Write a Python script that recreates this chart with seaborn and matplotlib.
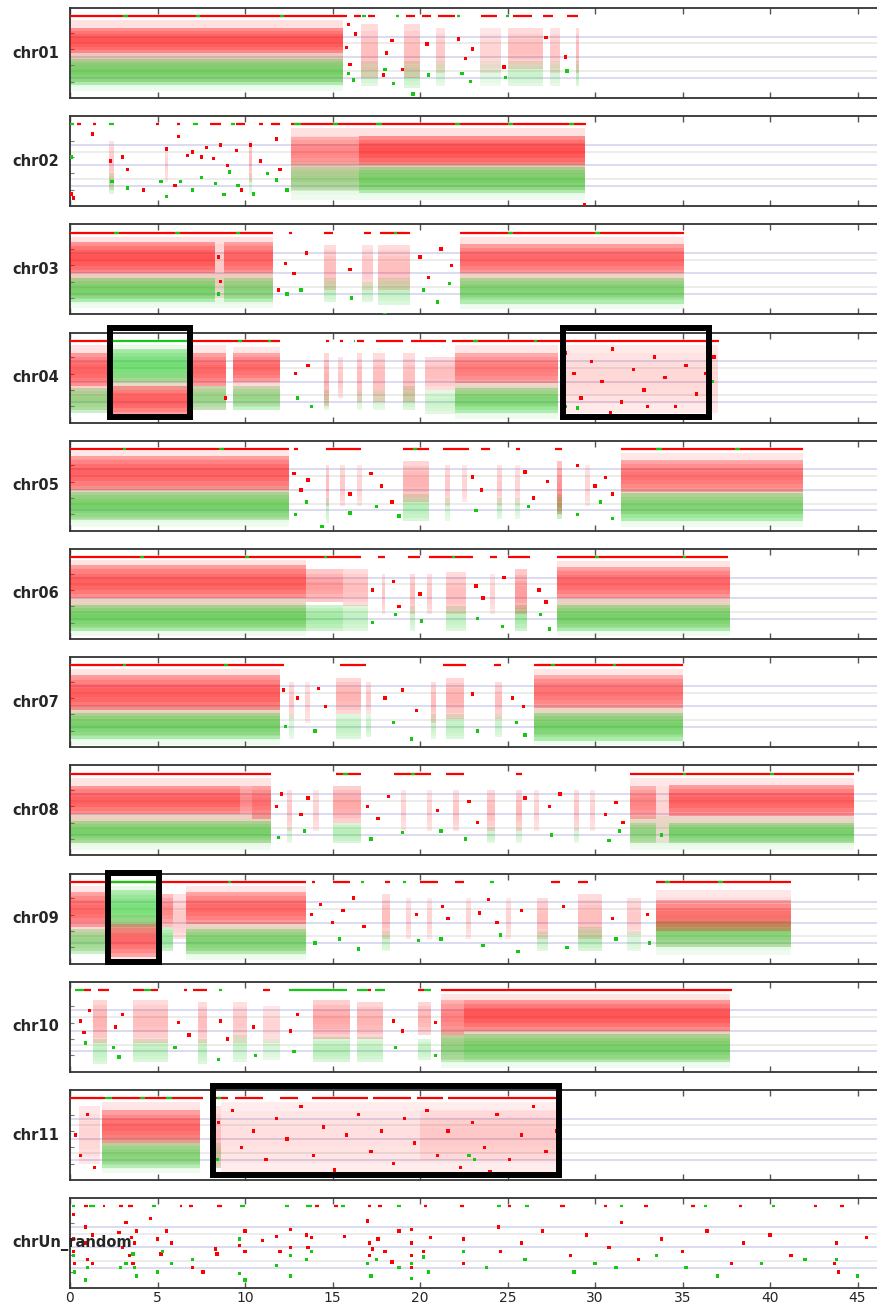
import matplotlib
matplotlib.use("Agg")
import matplotlib.pyplot as plt
from matplotlib.patches import Rectangle
import numpy as np
import pandas as pd
import seaborn as sns

sns.set_style("white")
plt.rcParams['font.family'] = ['DejaVu Sans']

chromosomes = ["chr01", "chr02", "chr03", "chr04", "chr05", "chr06",
               "chr07", "chr08", "chr09", "chr10", "chr11", "chrUn_random"]
x_ticks = [0, 5, 10, 15, 20, 25, 30, 35, 40, 45]
ref_lines_main = [0.25, 0.5, 0.75]
ref_lines_third = [1 / 3, 2 / 3]

# ---- band data: (start Mb, end Mb, y low, y high, density) ----
c01_red_bands = [(0.0, 15.6, .55, .86, .7), (0.0, 15.6, .20, .95, .25), (16.6, 17.6, .25, .9, .3), (19.1, 20.0, .25, .9, .3),
                 (20.9, 21.4, .3, .85, .25), (23.4, 24.6, .3, .85, .2), (25.0, 27.0, .35, .85, .3), (27.4, 28.0, .3, .85, .25),
                 (28.9, 29.1, .3, .85, .3)]
c01_green_bands = [(0.0, 15.6, .16, .48, .6), (0.0, 15.6, .08, .55, .15), (16.6, 17.6, .15, .45, .25), (19.1, 20.0, .12, .45, .3),
                   (20.9, 21.4, .15, .45, .2), (23.4, 24.6, .15, .45, .15), (25.0, 27.0, .15, .45, .25), (27.4, 28.0, .15, .45, .2),
                   (28.9, 29.1, .15, .45, .3)]
c01_top_red = [(0.0, 15.8), (16.2, 16.6), (17.0, 17.4), (19.2, 19.7), (20.1, 20.6), (21.0, 22.0), (23.5, 24.4), (25.3, 26.4),
               (27.0, 27.6), (28.4, 29.0)]
c01_top_green = [(3.0, 3.3), (7.2, 7.4), (12.0, 12.2), (16.7, 16.9), (18.6, 18.8), (22.1, 22.3), (24.9, 25.1)]
c01_red_pts = [(15.8, .62), (16.0, .41), (16.3, .78), (18.1, .55), (18.4, .7), (19.0, .35), (20.4, .66), (22.2, .72), (22.6, .48),
               (23.0, .6), (24.8, .38), (27.2, .74), (28.3, .5), (15.9, .9), (17.9, .28)]
c01_green_pts = [(15.9, .3), (16.2, .22), (18.0, .35), (18.5, .18), (20.5, .28), (22.4, .3), (22.9, .2), (24.9, .25), (28.4, .33),
                 (19.6, .05)]

c02_red_bands = [(12.6, 16.5, .5, .85, .4), (16.5, 29.4, .5, .86, .72), (12.6, 29.4, .2, .95, .25), (2.2, 2.5, .2, .8, .25),
                 (10.2, 10.4, .3, .8, .3), (5.4, 5.6, .3, .7, .2)]
c02_green_bands = [(12.6, 16.5, .18, .48, .35), (16.5, 29.4, .16, .48, .6), (12.6, 29.4, .08, .55, .15), (2.2, 2.5, .15, .4, .3),
                   (10.2, 10.4, .15, .4, .2)]
c02_top_red = [(0.4, 0.6), (1.3, 1.5), (4.9, 5.1), (6.1, 6.3), (8.0, 8.6), (9.5, 10.0), (10.8, 11.0), (11.5, 12.0), (12.6, 29.5)]
c02_top_green = [(0.0, 0.2), (2.2, 2.5), (7.0, 7.3), (9.2, 9.4), (12.8, 13.2), (15.0, 15.3), (17.5, 17.8), (22.0, 22.3),
                 (25.0, 25.3), (28.5, 28.8)]
c02_red_pts = [(0.1, .15), (0.2, .1), (1.3, .88), (2.3, .55), (3.3, .45), (4.2, .2), (5.5, .7), (6.0, .25), (6.2, .85), (6.7, .62),
               (7.0, .66), (7.5, .6), (7.8, .72), (8.2, .58), (8.6, .75), (9.0, .5), (9.5, .68), (9.8, .2), (10.3, .75),
               (10.9, .55), (11.8, .82), (12.0, .45), (3.0, .6), (29.4, .02)]
c02_green_pts = [(0.1, .6), (2.4, .3), (3.3, .22), (5.2, .3), (5.5, .12), (6.3, .3), (7.0, .2), (7.5, .35), (8.3, .28), (9.1, .42),
                 (9.6, .25), (10.5, .15), (11.3, .4), (11.8, .32), (12.4, .2), (8.8, .14)]

c03_red_bands = [(0.0, 8.3, .5, .88, .7), (8.8, 11.6, .5, .88, .6), (0.0, 11.6, .2, .95, .25), (14.5, 15.2, .3, .85, .3),
                 (16.7, 17.3, .3, .85, .25), (17.6, 19.4, .3, .85, .3), (22.3, 35.1, .5, .86, .6), (22.3, 35.1, .2, .95, .22)]
c03_green_bands = [(0.0, 8.3, .15, .45, .6), (8.8, 11.6, .15, .45, .5), (0.0, 11.6, .08, .5, .15), (14.5, 15.2, .15, .45, .3),
                   (16.7, 17.3, .15, .4, .25), (17.6, 19.4, .12, .45, .3), (22.3, 35.1, .13, .45, .55), (22.3, 35.1, .06, .5, .15)]
c03_top_red = [(0.0, 11.6), (12.5, 12.7), (14.5, 15.0), (16.8, 17.2), (17.7, 19.4), (22.3, 35.1)]
c03_top_green = [(2.5, 2.8), (6.0, 6.3), (9.5, 9.7), (18.5, 18.7), (25.0, 25.3), (30.0, 30.3)]
c03_red_pts = [(12.3, .62), (12.8, .5), (13.5, .75), (16.0, .55), (20.0, .7), (20.5, .45), (21.2, .8), (21.8, .6), (8.5, .7),
               (8.6, .4), (11.9, .3)]
c03_green_pts = [(12.4, .25), (13.2, .3), (16.1, .2), (20.2, .3), (21.0, .15), (21.7, .38), (8.5, .25), (18.0, .0)]

c04_red_bands = [(0.0, 2.2, .45, .85, .6), (0.0, 2.2, .15, .95, .25), (2.2, 6.9, .08, .45, .65), (2.2, 6.9, .05, .6, .2),
                 (6.9, 8.9, .45, .85, .6), (6.9, 8.9, .15, .95, .2), (9.3, 12.0, .5, .85, .6), (9.3, 12.0, .2, .92, .2),
                 (14.5, 14.8, .2, .85, .35), (15.3, 15.6, .3, .8, .25), (16.4, 16.7, .25, .85, .3), (17.3, 18.0, .25, .85, .3),
                 (19.0, 19.7, .25, .85, .3), (20.3, 22.0, .4, .8, .3), (22.0, 27.9, .48, .85, .5), (22.0, 27.9, .2, .95, .2),
                 (28.0, 37.0, .12, .95, .18)]
c04_green_bands = [(0.0, 2.2, .12, .42, .5), (2.2, 6.9, .5, .9, .6), (2.2, 6.9, .4, .95, .2), (6.9, 8.9, .15, .45, .5),
                   (9.3, 12.0, .15, .45, .5), (14.5, 14.8, .15, .4, .25), (16.4, 16.7, .15, .4, .2), (17.3, 18.0, .15, .4, .2),
                   (19.0, 19.7, .15, .45, .3), (20.3, 22.0, .1, .4, .25), (22.0, 27.9, .12, .42, .55), (22.0, 27.9, .05, .5, .15)]
c04_top_red = [(0.0, 2.2), (6.9, 12.0), (14.6, 14.8), (15.4, 15.6), (16.4, 16.8), (17.5, 19.0), (19.5, 21.5), (21.8, 37.1)]
c04_top_green = [(2.2, 6.9), (9.6, 9.8), (11.3, 11.5), (16.2, 16.3), (23.0, 23.3), (26.5, 26.7)]
c04_red_pts = [(28.3, .85), (28.8, .6), (29.2, .3), (29.8, .75), (30.4, .5), (31.0, .9), (31.5, .25), (32.2, .65), (32.8, .4),
               (33.4, .8), (34.0, .55), (34.6, .2), (35.2, .7), (35.8, .35), (36.3, .6), (36.8, .8), (36.5, .15), (30.9, .12),
               (33.0, .2), (12.9, .6), (13.6, .7), (8.9, .3)]
c04_green_pts = [(13.0, .3), (13.8, .2), (36.7, .5), (29.0, .18), (28.3, .2)]

c05_red_bands = [(0.0, 12.5, .5, .92, .65), (0.0, 12.5, .15, .98, .2), (14.6, 14.8, .3, .8, .3), (15.4, 15.7, .3, .8, .25),
                 (16.4, 16.7, .3, .8, .2), (19.0, 20.5, .35, .85, .35), (21.4, 21.7, .3, .8, .25), (22.4, 22.7, .35, .8, .2),
                 (24.4, 24.7, .3, .8, .25), (25.4, 25.7, .3, .8, .2), (27.8, 28.1, .2, .85, .5), (29.4, 29.7, .3, .8, .2),
                 (31.5, 41.9, .48, .86, .55), (31.5, 41.9, .2, .95, .2)]
c05_green_bands = [(0.0, 12.5, .13, .48, .6), (0.0, 12.5, .05, .55, .15), (14.6, 14.8, .1, .4, .25), (19.0, 20.5, .12, .45, .35),
                   (21.4, 21.7, .12, .4, .2), (24.4, 24.7, .15, .4, .25), (25.4, 25.7, .15, .4, .2), (27.8, 28.1, .15, .45, .5),
                   (31.5, 41.9, .12, .46, .55), (31.5, 41.9, .05, .52, .15)]
c05_top_red = [(0.0, 12.5), (12.8, 13.0), (14.6, 16.6), (19.0, 20.5), (21.3, 22.8), (23.5, 24.0), (25.5, 25.7), (27.7, 28.1),
               (31.5, 41.9)]
c05_top_green = [(3.0, 3.2), (8.5, 8.8), (19.6, 19.8), (33.5, 33.8), (38.0, 38.3)]
c05_red_pts = [(12.8, .7), (13.2, .5), (13.6, .62), (16.0, .45), (17.2, .7), (17.8, .55), (18.4, .35), (23.0, .66), (23.5, .5),
               (26.0, .72), (26.5, .4), (27.3, .6), (29.0, .8), (30.0, .55), (30.6, .65), (31.0, .45)]
c05_green_pts = [(12.9, .2), (13.5, .35), (14.4, .05), (16.0, .22), (17.5, .3), (18.8, .18), (23.2, .25), (26.2, .3), (29.0, .2),
                 (30.3, .35), (31.0, .15)]

c06_red_bands = [(0.0, 13.5, .5, .9, .65), (0.0, 13.5, .15, .97, .22), (13.5, 15.6, .45, .85, .45), (15.6, 17.0, .4, .85, .3),
                 (17.8, 18.0, .3, .8, .25), (19.4, 19.7, .3, .8, .3), (20.4, 20.7, .3, .8, .25), (21.5, 22.6, .3, .82, .3),
                 (24.0, 24.3, .3, .8, .2), (25.4, 26.1, .3, .85, .45), (27.8, 37.7, .5, .88, .6), (27.8, 37.7, .15, .95, .22)]
c06_green_bands = [(0.0, 13.5, .1, .42, .62), (0.0, 13.5, .04, .5, .15), (13.5, 15.6, .1, .42, .45), (15.6, 17.0, .1, .42, .3),
                   (19.4, 19.7, .1, .4, .25), (21.5, 22.6, .1, .4, .3), (25.4, 26.1, .1, .42, .45), (27.8, 37.7, .1, .42, .6),
                   (27.8, 37.7, .04, .5, .15)]
c06_top_red = [(0.0, 16.6), (17.6, 18.0), (19.3, 20.0), (20.5, 23.0), (24.0, 24.4), (25.0, 26.3), (27.8, 37.6)]
c06_top_green = [(4.0, 4.2), (10.0, 10.2), (14.5, 14.7), (21.8, 22.0), (30.0, 30.2), (35.0, 35.2)]
c06_red_pts = [(17.3, .6), (18.5, .7), (18.8, .4), (23.2, .65), (23.6, .5), (24.8, .75), (26.8, .6), (27.2, .45), (20.0, .55)]
c06_green_pts = [(17.3, .2), (18.6, .3), (23.3, .25), (24.7, .15), (26.9, .3), (27.4, .12), (20.1, .22)]

c07_red_bands = [(0.0, 12.0, .45, .88, .65), (0.0, 12.0, .15, .96, .22), (12.5, 12.8, .35, .8, .25), (13.4, 13.7, .3, .8, .2),
                 (15.2, 16.6, .4, .85, .35), (16.9, 17.2, .4, .8, .25), (20.6, 20.9, .3, .8, .3), (21.5, 22.5, .35, .85, .35),
                 (24.3, 24.7, .35, .8, .3), (26.5, 35.0, .48, .88, .55), (26.5, 35.0, .15, .95, .2)]
c07_green_bands = [(0.0, 12.0, .1, .42, .6), (0.0, 12.0, .03, .5, .15), (12.5, 12.8, .1, .4, .2), (15.2, 16.6, .1, .4, .3),
                   (16.9, 17.2, .12, .4, .25), (20.6, 20.9, .1, .4, .25), (21.5, 22.5, .1, .4, .3), (24.3, 24.7, .12, .4, .25),
                   (26.5, 35.0, .08, .42, .6), (26.5, 35.0, .03, .5, .15)]
c07_top_red = [(0.0, 12.2), (15.4, 16.9), (21.3, 22.6), (24.2, 24.6), (26.5, 35.0)]
c07_top_green = [(3.0, 3.2), (8.8, 9.0), (27.5, 27.7), (31.0, 31.2)]
c07_red_pts = [(12.2, .7), (13.0, .6), (14.2, .72), (14.6, .5), (18.0, .6), (19.0, .7), (19.8, .45), (23.0, .65), (25.3, .6),
               (25.9, .5)]
c07_green_pts = [(12.3, .25), (14.0, .2), (18.5, .3), (19.5, .1), (23.3, .2), (25.5, .3), (26.0, .15)]

c08_red_bands = [(0.0, 9.7, .5, .85, .65), (9.7, 10.4, .5, .85, .4), (10.4, 11.5, .45, .85, .55), (0.0, 11.5, .15, .95, .22),
                 (12.4, 12.7, .3, .8, .25), (13.9, 14.2, .3, .8, .2), (15.0, 16.6, .4, .85, .4), (18.9, 19.2, .3, .8, .2),
                 (20.4, 20.7, .3, .8, .2), (21.9, 22.2, .3, .8, .25), (23.8, 24.3, .3, .8, .3), (25.5, 25.8, .3, .8, .3),
                 (26.5, 26.8, .3, .8, .2), (28.8, 29.1, .3, .8, .25), (29.7, 30.0, .3, .8, .2), (32.0, 33.5, .45, .85, .45),
                 (34.2, 44.8, .48, .86, .65), (32.0, 44.8, .15, .95, .2)]
c08_green_bands = [(0.0, 11.5, .15, .42, .6), (0.0, 11.5, .06, .5, .15), (12.4, 12.7, .15, .35, .2), (15.0, 16.6, .15, .4, .35),
                   (23.8, 24.3, .15, .35, .25), (25.5, 25.8, .15, .35, .2), (28.8, 29.1, .15, .35, .2), (32.0, 33.5, .15, .4, .45),
                   (34.2, 44.8, .15, .4, .6), (32.0, 44.8, .06, .48, .15)]
c08_top_red = [(0.0, 11.5), (15.2, 16.6), (18.5, 20.6), (21.5, 22.5), (25.5, 25.8), (32.0, 44.8)]
c08_top_green = [(15.6, 15.9), (19.5, 19.7), (35.0, 35.2), (40.0, 40.2)]
c08_red_pts = [(11.8, .6), (12.1, .75), (13.2, .5), (13.6, .7), (17.0, .6), (17.6, .45), (18.2, .72), (21.0, .55), (22.8, .66),
               (23.3, .4), (27.4, .6), (28.0, .75), (30.6, .5), (31.2, .65), (31.6, .4), (26.0, .7)]
c08_green_pts = [(11.9, .22), (13.4, .3), (17.2, .2), (19.0, .28), (21.2, .3), (22.6, .2), (27.5, .25), (30.8, .18), (31.4, .3),
                 (33.8, .25)]

c09_red_bands = [(0.0, 2.1, .45, .88, .6), (0.0, 2.1, .15, .95, .2), (2.1, 5.1, .08, .48, .6), (2.1, 5.1, .05, .6, .2),
                 (5.1, 5.9, .45, .85, .55), (5.9, 6.6, .3, .85, .25), (6.6, 13.5, .48, .88, .6), (6.6, 13.5, .15, .95, .2),
                 (17.8, 18.3, .3, .85, .3), (19.2, 19.5, .3, .8, .2), (20.4, 20.7, .3, .8, .2), (22.6, 22.9, .3, .8, .2),
                 (24.9, 25.2, .3, .8, .2), (26.7, 27.3, .3, .8, .3), (29.0, 30.4, .3, .85, .3), (31.8, 32.6, .35, .8, .25),
                 (33.5, 41.2, .4, .78, .55), (33.5, 41.2, .2, .9, .2)]
c09_green_bands = [(0.0, 2.1, .12, .42, .5), (2.1, 5.1, .45, .9, .55), (2.1, 5.1, .35, .95, .2), (5.1, 5.9, .15, .45, .5),
                   (6.6, 13.5, .12, .42, .55), (6.6, 13.5, .05, .5, .15), (17.8, 18.3, .15, .4, .25), (26.7, 27.3, .15, .4, .25),
                   (29.0, 30.4, .15, .45, .35), (31.8, 32.6, .15, .4, .2), (33.5, 41.2, .2, .52, .5), (33.5, 41.2, .1, .6, .15)]
c09_top_red = [(0.0, 13.5), (13.8, 14.0), (15.0, 16.0), (18.0, 18.3), (20.0, 21.0), (22.0, 22.5), (27.5, 28.0), (29.0, 29.6),
               (33.5, 41.2)]
c09_top_green = [(2.1, 5.1), (9.0, 9.2), (16.6, 16.8), (19.0, 19.2), (24.0, 24.2), (34.0, 34.3), (37.0, 37.3)]
c09_red_pts = [(13.8, .6), (14.3, .72), (15.0, .5), (15.6, .65), (16.2, .8), (16.8, .45), (19.8, .6), (21.3, .7), (21.6, .55),
               (23.4, .62), (23.9, .78), (24.4, .5), (25.8, .65), (28.2, .7), (31.0, .55), (33.0, .6)]
c09_green_pts = [(14.0, .25), (15.4, .3), (16.5, .18), (19.9, .28), (21.2, .3), (23.6, .22), (24.6, .35), (25.6, .15), (28.4, .2),
                 (31.2, .3), (33.1, .25)]

c10_red_bands = [(1.3, 2.1, .35, .88, .35), (3.6, 5.6, .35, .88, .3), (7.3, 7.8, .35, .85, .3), (9.3, 10.1, .35, .85, .25),
                 (11.0, 12.0, .35, .8, .2), (13.9, 16.0, .4, .88, .4), (16.4, 17.9, .4, .85, .35), (19.9, 20.6, .45, .85, .35),
                 (21.2, 22.5, .45, .88, .45), (22.5, 37.7, .5, .88, .7), (21.2, 37.7, .15, .95, .22)]
c10_green_bands = [(1.3, 2.1, .1, .4, .3), (3.6, 5.6, .12, .4, .3), (7.3, 7.8, .1, .4, .3), (9.3, 10.1, .12, .45, .25),
                   (11.0, 12.0, .15, .4, .2), (13.9, 16.0, .12, .42, .35), (16.4, 17.9, .12, .42, .3), (19.9, 20.6, .15, .4, .3),
                   (21.2, 22.5, .12, .45, .45), (22.5, 37.7, .12, .46, .6), (21.2, 37.7, .05, .52, .15)]
c10_top_red = [(0.8, 1.2), (1.6, 2.2), (3.6, 4.2), (4.6, 5.0), (6.5, 6.7), (7.0, 7.8), (11.0, 11.4), (17.0, 17.2), (19.9, 20.2),
               (21.2, 37.8)]
c10_top_green = [(0.3, 0.8), (4.2, 4.6), (8.5, 8.7), (12.5, 15.8), (16.4, 17.0), (17.4, 18.0), (20.2, 20.6)]
c10_red_pts = [(0.6, .62), (0.8, .48), (2.6, .55), (3.0, .7), (6.2, .6), (6.8, .45), (8.6, .62), (9.0, .4), (10.5, .55),
               (12.6, .5), (13.0, .7), (18.5, .62), (19.0, .5), (20.9, .6), (1.1, .75)]
c10_green_pts = [(0.9, .35), (2.5, .3), (6.0, .3), (8.5, .15), (10.6, .2), (12.8, .25), (18.6, .3), (20.9, .2), (2.8, .18)]

c11_red_bands = [(1.8, 7.4, .45, .85, .6), (1.8, 7.4, .2, .95, .2), (0.5, 1.7, .2, .9, .2), (8.2, 8.6, .15, .9, .3),
                 (8.6, 28.1, .1, .95, .15), (20.0, 28.1, .25, .85, .12)]
c11_green_bands = [(1.8, 7.4, .15, .45, .5), (1.8, 7.4, .08, .55, .15), (8.2, 8.6, .15, .45, .3)]
c11_top_red = [(0.0, 2.0), (2.4, 7.6), (8.3, 9.0), (9.4, 11.0), (12.0, 13.0), (13.8, 17.0), (17.3, 19.5), (19.8, 21.3),
               (21.6, 28.1)]
c11_top_green = [(2.0, 2.4), (4.0, 4.3), (5.5, 5.8), (8.4, 8.6)]
c11_red_pts = [(0.3, .55), (0.6, .3), (1.0, .8), (1.4, .15), (8.5, .7), (9.3, .85), (9.8, .4), (10.5, .6), (11.2, .25), (11.8, .75),
               (12.4, .5), (13.2, .9), (13.9, .3), (14.5, .65), (15.1, .12), (15.8, .55), (16.5, .8), (17.2, .35), (17.8, .6),
               (18.5, .2), (19.1, .75), (19.7, .45), (20.4, .85), (21.0, .3), (21.6, .6), (22.3, .15), (23.0, .7), (23.7, .4),
               (24.4, .8), (25.1, .25), (25.8, .55), (26.5, .9), (27.2, .35), (27.8, .6), (22.8, .05), (24.0, .1)]
c11_green_pts = [(8.4, .25), (22.8, .3), (23.1, .25), (27.9, .55)]

cUn_red_bands = []
cUn_green_bands = []
cUn_top_red = [(0.8, 1.0), (1.9, 2.0), (2.8, 3.0), (3.3, 3.6), (6.3, 6.4), (6.8, 7.0), (8.4, 8.7), (14.0, 14.2), (15.1, 15.3),
               (17.0, 17.2), (17.6, 17.8), (20.2, 20.4), (22.3, 22.5), (25.0, 25.2), (28.0, 28.3), (30.5, 30.7), (32.8, 33.0),
               (35.5, 35.7), (38.2, 38.4), (42.5, 42.7), (44.0, 44.2)]
cUn_top_green = [(0.1, 0.3), (1.1, 1.4), (4.7, 4.9), (9.7, 10.0), (12.3, 12.5), (13.5, 13.8), (15.5, 15.7), (18.7, 18.9),
                 (24.4, 24.6), (26.0, 26.2), (31.4, 31.6), (36.2, 36.4), (40.1, 40.3)]
cUn_red_pts = [(0.2, .9), (0.2, .6), (0.2, .45), (0.25, .3), (0.9, .75), (0.9, .55), (1.0, .35), (1.3, .65), (1.3, .3), (2.8, .68),
               (3.0, .5), (3.2, .8), (3.4, .4), (3.5, .62), (3.6, .3), (3.7, .55), (3.8, .7), (4.6, .85), (5.0, .6), (5.2, .42),
               (5.5, .7), (5.8, .55), (7.0, .25), (7.6, .2), (8.3, .48), (8.4, .42), (9.7, .52), (10.0, .7), (10.0, .45),
               (11.0, .58), (11.8, .63), (12.0, .45), (12.6, .72), (12.6, .5), (13.5, .65), (13.6, .5), (13.8, .62), (15.7, .63),
               (17.0, .82), (17.1, .55), (17.1, .4), (17.3, .48), (17.6, .6), (18.0, .45), (18.4, .32), (18.8, .7), (19.5, .72),
               (19.5, .55), (19.5, .4), (19.5, .25), (20.2, .45), (20.6, .62), (22.5, .6), (22.5, .3), (24.5, .75), (24.6, .45),
               (25.8, .55), (27.0, .7), (28.6, .4), (29.5, .65), (30.8, .5), (31.5, .8), (32.5, .35), (33.8, .6), (35.0, .45),
               (36.4, .7), (37.8, .3), (38.5, .55), (40.0, .65), (41.2, .4), (43.7, .3), (43.8, .55), (43.9, .2), (45.5, .62)]
cUn_green_pts = [(0.2, .4), (0.25, .2), (0.9, .1), (1.0, .25), (2.9, .25), (3.2, .3), (3.6, .42), (3.7, .25), (3.8, .15), (5.0, .2),
                 (5.3, .45), (5.8, .3), (7.0, .35), (9.7, .6), (9.7, .18), (10.0, .1), (11.8, .28), (12.6, .4), (12.6, .15),
                 (13.5, .35), (13.8, .45), (17.0, .3), (17.2, .15), (17.5, .35), (18.8, .25), (19.5, .3), (19.5, .12), (20.2, .38),
                 (20.5, .2), (22.5, .45), (23.8, .25), (26.0, .35), (28.8, .2), (30.0, .3), (31.2, .25), (33.5, .4), (35.2, .25),
                 (37.0, .15), (39.5, .3), (42.0, .35), (43.8, .35), (45.0, .15)]

# highlighted regions: (chromosome, start Mb, end Mb, y low, y high)
highlight_regions = [("chr04", 2.31, 6.83, 0.073, 1.16), ("chr04", 28.17, 36.5, 0.073, 1.16),
                     ("chr09", 2.17, 5.09, 0.024, 1.112), ("chr11", 8.15, 27.95, 0.06, 1.15)]

panel_data = {
    "chr01": (c01_red_bands, c01_green_bands, c01_top_red, c01_top_green, c01_red_pts, c01_green_pts),
    "chr02": (c02_red_bands, c02_green_bands, c02_top_red, c02_top_green, c02_red_pts, c02_green_pts),
    "chr03": (c03_red_bands, c03_green_bands, c03_top_red, c03_top_green, c03_red_pts, c03_green_pts),
    "chr04": (c04_red_bands, c04_green_bands, c04_top_red, c04_top_green, c04_red_pts, c04_green_pts),
    "chr05": (c05_red_bands, c05_green_bands, c05_top_red, c05_top_green, c05_red_pts, c05_green_pts),
    "chr06": (c06_red_bands, c06_green_bands, c06_top_red, c06_top_green, c06_red_pts, c06_green_pts),
    "chr07": (c07_red_bands, c07_green_bands, c07_top_red, c07_top_green, c07_red_pts, c07_green_pts),
    "chr08": (c08_red_bands, c08_green_bands, c08_top_red, c08_top_green, c08_red_pts, c08_green_pts),
    "chr09": (c09_red_bands, c09_green_bands, c09_top_red, c09_top_green, c09_red_pts, c09_green_pts),
    "chr10": (c10_red_bands, c10_green_bands, c10_top_red, c10_top_green, c10_red_pts, c10_green_pts),
    "chr11": (c11_red_bands, c11_green_bands, c11_top_red, c11_top_green, c11_red_pts, c11_green_pts),
    "chrUn_random": (cUn_red_bands, cUn_green_bands, cUn_top_red, cUn_top_green, cUn_red_pts, cUn_green_pts),
}

RED = "#ff0000"
GREEN = "#14c814"
W, H = 878, 1305
fig = plt.figure(figsize=(W / 100, H / 100), dpi=100)

LEFT_PX, TOP0_PX, PANEL_H_PX, STEP_PX = 70, 8, 90, 108.2
XMAX = (W - LEFT_PX) / 17.5
N_SLICES = 8
ALPHA_SCALE = 0.85


def draw_bands(ax, bands, color, z):
    # each band is shaded with a soft vertical falloff towards its edges
    for x0, x1, y0, y1, d in bands:
        edges = np.linspace(y0, y1, N_SLICES + 1)
        for k in range(N_SLICES):
            t = (k + 0.5) / N_SLICES
            w = 0.45 + 0.55 * np.sin(np.pi * t)
            ax.fill_between([x0, x1], [edges[k]] * 2, [edges[k + 1]] * 2, color=color,
                            alpha=min(1.0, d * w * ALPHA_SCALE), lw=0, zorder=z)


for i, chrom in enumerate(chromosomes):
    top = TOP0_PX + STEP_PX * i
    ax = fig.add_axes([LEFT_PX / W, 1 - (top + PANEL_H_PX) / H, (W - LEFT_PX) / W, PANEL_H_PX / H])
    red_bands, green_bands, top_red, top_green, red_pts, green_pts = panel_data[chrom]

    for yv in ref_lines_main:
        ax.axhline(yv, color="#dcdcf0", lw=1.4, zorder=0)
    for yv in ref_lines_third:
        ax.axhline(yv, color="#ececec", lw=1.4, zorder=0)

    halo_r = [b for b in red_bands if b[4] < 0.3]
    core_r = [b for b in red_bands if b[4] >= 0.3]
    draw_bands(ax, halo_r, RED, 1)
    draw_bands(ax, green_bands, GREEN, 2)
    draw_bands(ax, core_r, RED, 3)

    if top_red:
        ax.hlines([1.0] * len(top_red), [s for s, e in top_red], [e for s, e in top_red], color=RED, lw=1.6, zorder=4)
    if top_green:
        ax.hlines([1.0] * len(top_green), [s for s, e in top_green], [e for s, e in top_green], color=GREEN, lw=1.6, zorder=5)

    pts = pd.DataFrame([(x, y, "red") for x, y in red_pts] + [(x, y, "green") for x, y in green_pts],
                       columns=["pos", "ratio", "allele"])
    if len(pts):
        sns.scatterplot(data=pts, x="pos", y="ratio", hue="allele", palette={"red": RED, "green": GREEN},
                        marker="s", s=6, linewidth=0, legend=False, ax=ax, zorder=6)

    for c, x0, x1, y0, y1 in highlight_regions:
        if c == chrom:
            ax.add_patch(Rectangle((x0, y0), x1 - x0, y1 - y0, fill=False, ec="black", lw=4.3,
                                   clip_on=False, zorder=10))

    ax.set_xlim(0, XMAX)
    ax.set_ylim(0, 1.1)
    ax.set_xticks(x_ticks)
    ax.set_yticks([0.2, 0.4, 0.6, 0.8])
    ax.tick_params(axis="x", direction="in", top=True, bottom=True, length=4, width=1, color="#555555",
                   labelbottom=(i == len(chromosomes) - 1), labelsize=10, pad=2)
    ax.tick_params(axis="y", direction="in", left=True, length=3, width=0.8, color="#777777", labelleft=False)
    ax.set_xlabel("")
    ax.set_ylabel("")
    for side in ["left", "top", "bottom"]:
        ax.spines[side].set_color("#333333")
        ax.spines[side].set_linewidth(1.3)
    ax.spines["right"].set_visible(False)

    fig.text(12 / W, 1 - (top + PANEL_H_PX / 2) / H, chrom, ha="left", va="center",
             fontsize=10.5, fontweight="bold", zorder=20)

fig.savefig("out.png", dpi=100)
